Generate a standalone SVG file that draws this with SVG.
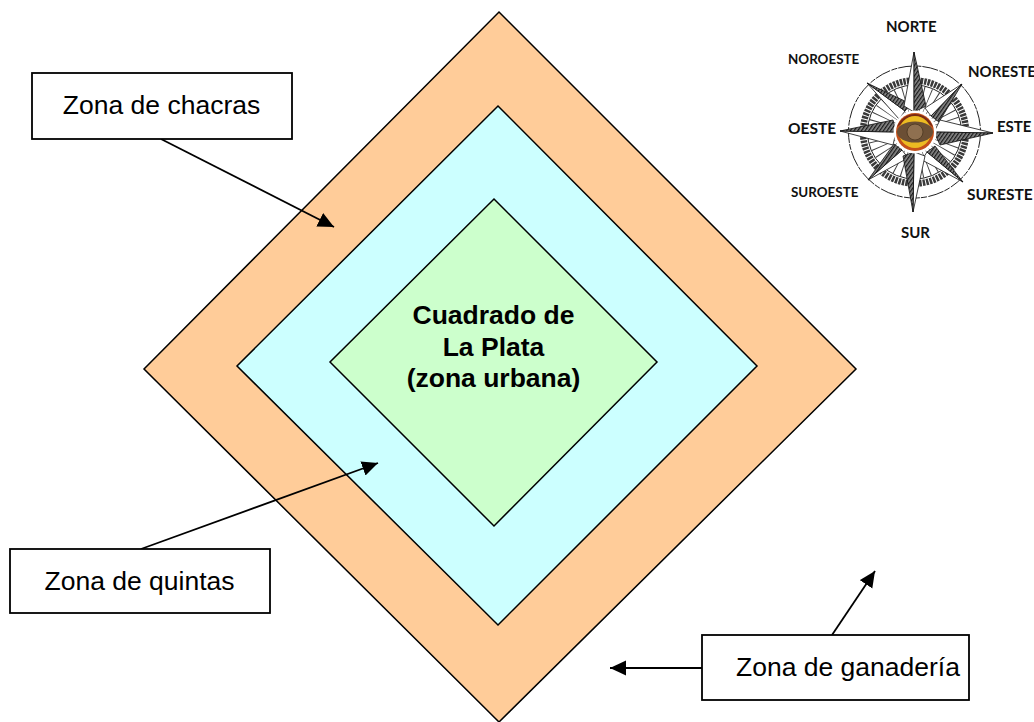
<svg xmlns="http://www.w3.org/2000/svg" width="1034" height="722" viewBox="0 0 1034 722">
<style>
.z{stroke:#000;stroke-width:1.5}
.b{fill:#fff;stroke:#000;stroke-width:1.8}
.t{font-family:"Liberation Sans",Arial,sans-serif;font-size:26.5px;fill:#000;text-anchor:middle}
.h{font-weight:bold}
.c{font-family:"Lato","Open Sans",sans-serif;font-weight:bold;fill:#111}
.l{stroke:#000;stroke-width:1.8;fill:none}
.w{fill:#fff}
.d{fill:url(#hatch)}
</style>
<defs>
<marker id="a" markerUnits="userSpaceOnUse" markerWidth="18" markerHeight="16" refX="16" refY="8" orient="auto"><path d="M0 0.5L16 8L0 15.5z" fill="#000"/></marker>
<pattern id="hatch" patternUnits="userSpaceOnUse" width="3" height="3" patternTransform="rotate(35)"><rect width="3" height="3" fill="#8a8a8a"/><rect width="1.3" height="3" fill="#1a1a1a"/></pattern>
</defs>
<rect width="1034" height="722" fill="#fff"/>
<g id="zona-ganaderia-diamond"><polygon class="z" fill="#ffcc99" points="499,12 856,369 499,722 144,369"/></g>
<g id="zona-quintas-diamond"><polygon class="z" fill="#ccffff" points="498,106 757,366 498,625 237,366"/></g>
<g id="cuadrado"><polygon class="z" fill="#ccffcc" points="494,199 657,362 494,526 330,362"/>
<text class="t h" x="493.5" y="323.5">Cuadrado de</text><text class="t h" x="493.5" y="355.5">La Plata</text><text class="t h" x="493.5" y="387">(zona urbana)</text></g>
<g id="connectors">
<line class="l" x1="161" y1="139" x2="334" y2="227" marker-end="url(#a)"/>
<line class="l" x1="141" y1="549" x2="378" y2="463" marker-end="url(#a)"/>
<line class="l" x1="832" y1="635" x2="875" y2="571" marker-end="url(#a)"/>
<line class="l" x1="702" y1="668" x2="610" y2="668" marker-end="url(#a)"/>
</g>
<g id="zona-chacras"><rect class="b" x="32" y="73" width="260" height="66"/><text class="t" x="161.500" y="114">Zona de chacras</text></g>
<g id="zona-quintas"><rect class="b" x="10" y="549" width="260" height="64"/><text class="t" x="139.500" y="590">Zona de quintas</text></g>
<g id="zona-ganaderia"><rect class="b" x="702" y="635" width="267" height="65"/><text class="t" x="848" y="676">Zona de ganadería</text></g>
<g id="compass">
<circle cx="914.500" cy="132" r="66" fill="#fff" stroke="#222" stroke-width="1" stroke-dasharray="16 1.500 6 1"/>
<circle cx="914.500" cy="132" r="51.500" fill="none" stroke="#3a3a3a" stroke-width="6.500" stroke-dasharray="2.500 1"/>
<circle cx="914.500" cy="132" r="47" fill="none" stroke="#222" stroke-width="1"/>
<circle cx="914.500" cy="132" r="33" fill="none" stroke="#444" stroke-width="27" stroke-dasharray="0.800 4.800"/>
<g stroke="#111" stroke-width="0.800" stroke-linejoin="round">
<path class="w" d="M867 83L905 111L899 119z"/><path class="d" d="M867 83L905 111L911 104z"/>
<path class="w" d="M962 84L931 116L925 108z"/><path class="d" d="M962 84L931 116L939 122z"/>
<path class="w" d="M963 182L927 152L922 160z"/><path class="d" d="M963 182L927 152L935 146z"/>
<path class="w" d="M868 180L902 150L908 158z"/><path class="d" d="M868 180L902 150L894 144z"/>
<path class="w" d="M914 52L904 106L914 112z"/><path class="d" d="M914 52L926 106L914 112z"/>
<path class="w" d="M993 133L940 120L934 132z"/><path class="d" d="M993 133L940 145L934 132z"/>
<path class="w" d="M913 212L925 156L914 152z"/><path class="d" d="M913 212L903 156L914 152z"/>
<path class="w" d="M840 131L893 145L896 132z"/><path class="d" d="M840 131L893 120L896 132z"/>
</g>
<circle cx="915" cy="132" r="21.500" fill="#fff"/>
<circle cx="915" cy="132" r="19" fill="#c4501a"/>
<path d="M897 127A19 19 0 0 1 933 127Q915 112 897 127z" fill="#7a2a14"/>
<circle cx="915" cy="132" r="16" fill="#ecbb22"/>
<ellipse cx="915" cy="132" rx="18" ry="10.500" fill="#6b4f35"/>
<circle cx="915" cy="132" r="8" fill="#8f7050" stroke="#4a3620" stroke-width="0.800"/>
<text class="c" x="886" y="32" font-size="15">NORTE</text>
<text class="c" x="788" y="64" font-size="13.400">NOROESTE</text>
<text class="c" x="968" y="77" font-size="15">NORESTE</text>
<text class="c" x="788" y="134" font-size="15.500">OESTE</text>
<text class="c" x="997" y="132" font-size="15">ESTE</text>
<text class="c" x="791" y="197" font-size="13.400">SUROESTE</text>
<text class="c" x="967" y="200" font-size="15.500">SURESTE</text>
<text class="c" x="901" y="238" font-size="15">SUR</text>
</g>
</svg>
